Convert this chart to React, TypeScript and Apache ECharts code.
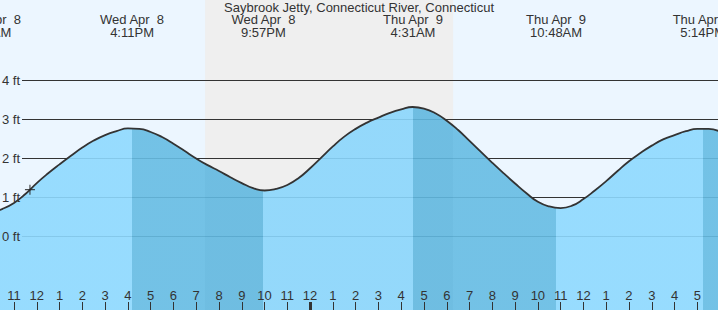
import { useEffect, useRef } from "react";
import * as echarts from "echarts";

const TITLE = "Saybrook Jetty, Connecticut River, Connecticut";

// time in hours since Wed Apr 8 00:00, height in feet
const tideHours = [
  9.5, 10, 10.5, 11, 11.5, 12, 12.5, 13, 13.5, 14, 14.5, 15, 15.5, 16, 16.5, 17, 17.5, 18, 18.5, 19, 19.5, 20, 20.5, 21,
  21.5, 22, 22.5, 23, 23.5, 24, 24.5, 25, 25.5, 26, 26.5, 27, 27.5, 28, 28.5, 29, 29.5, 30, 30.5, 31, 31.5, 32, 32.5, 33,
  33.5, 34, 34.5, 35, 35.5, 36, 36.5, 37, 37.5, 38, 38.5, 39, 39.5, 40, 40.5, 41, 41.5, 42,
];
const tideFeet = [
  0.6, 0.62, 0.71, 0.86, 1.09, 1.37, 1.62, 1.85, 2.07, 2.28, 2.46, 2.6, 2.7, 2.77, 2.76, 2.68, 2.55, 2.38, 2.19, 2.0, 1.83, 1.68, 1.52, 1.37,
  1.24, 1.18, 1.22, 1.32, 1.5, 1.75, 2.03, 2.31, 2.56, 2.76, 2.92, 3.05, 3.17, 3.26, 3.32, 3.28, 3.16, 2.97, 2.73, 2.45, 2.17, 1.89, 1.62, 1.36,
  1.11, 0.89, 0.77, 0.73, 0.79, 0.96, 1.18, 1.42, 1.68, 1.93, 2.14, 2.33, 2.49, 2.6, 2.7, 2.76, 2.76, 2.69,
];

const eventHours = [9.9, 16.183, 21.95, 28.517, 34.8, 41.233];
const eventDates = ["Wed Apr  8", "Wed Apr  8", "Wed Apr  8", "Thu Apr  9", "Thu Apr  9", "Thu Apr  9"];
const eventTimes = ["9:54AM", "4:11PM", "9:57PM", "4:31AM", "10:48AM", "5:14PM"];
const eventKinds = ["low", "high", "low", "high", "low", "high"];

const sunset = 19.39;
const sunrise = 30.28;

const nowHour = 11.7;
const nowFeet = 1.2;

const gridFeet = [0, 1, 2, 3, 4];
const midnightHours = [24];

// layout
const W = 718;
const H = 310;
const PX_PER_HOUR = 22.777;
const FIRST_TICK_X = 14; // pixel position of 11 AM tick
const AXIS_MIN = 9;
const AXIS_MAX = 11 + (W - FIRST_TICK_X) / PX_PER_HOUR;
const GRID_LEFT = FIRST_TICK_X - (11 - AXIS_MIN) * PX_PER_HOUR;
const GRID_WIDTH = (AXIS_MAX - AXIS_MIN) * PX_PER_HOUR;
const VISIBLE_MIN = 11 - FIRST_TICK_X / PX_PER_HOUR;
const PX_PER_FOOT = 39;
const ZERO_Y = 236.5;
const Y_MIN = -(H - ZERO_Y) / PX_PER_FOOT;
const Y_MAX = ZERO_Y / PX_PER_FOOT;

const FONT = "Liberation Sans, Arial, Helvetica, sans-serif";
const TEXT = "#333";
const BG = "#ECF6FF";
const NIGHT = "#EFEFEF";
const LIGHT_DAY = "#8ED9FE";
const DARK_DAY = "#66BCE3";
const LIGHT_NIGHT = "#8AD6FC";
const DARK_NIGHT = "#61B8E0";

function buildPieces() {
  const cuts: number[] = [];
  eventHours.forEach((h) => cuts.push(h));
  cuts.push(sunset, sunrise);
  cuts.sort((a, b) => a - b);
  const isEbb = (x: number) => {
    let kind = "low";
    for (let i = 0; i < eventHours.length; i++) if (eventHours[i] <= x) kind = eventKinds[i];
    return kind === "high";
  };
  const isNight = (x: number) => x >= sunset && x < sunrise;
  const colorAt = (x: number) =>
    isEbb(x) ? (isNight(x) ? DARK_NIGHT : DARK_DAY) : isNight(x) ? LIGHT_NIGHT : LIGHT_DAY;
  const pieces: any[] = [];
  let prev: number | null = null;
  for (const c of cuts) {
    const probe = prev == null ? c - 0.01 : (prev + c) / 2;
    const p: any = { lt: c, color: colorAt(probe) };
    if (prev != null) p.gte = prev;
    pieces.push(p);
    prev = c;
  }
  pieces.push({ gte: prev, color: colorAt((prev as number) + 0.01) });
  return pieces;
}

function hourLabel(v: number) {
  if (v < VISIBLE_MIN + 0.3 || v > AXIS_MAX - 0.3) return "";
  const h = ((Math.round(v) % 24) + 24) % 24;
  return String(h % 12 === 0 ? 12 : h % 12);
}

function eventLabel(v: number) {
  const i = eventHours.findIndex((h) => Math.abs(h - v) < 1e-6);
  return i >= 0 ? eventDates[i] + "\n" + eventTimes[i] : "";
}

export default function App() {
  const ref = useRef<HTMLDivElement>(null);
  useEffect(() => {
    const el = ref.current;
    if (!el) return;
    const chart = echarts.init(el, undefined, { renderer: "svg" });
    const tide = tideHours.map((h, i) => [h, tideFeet[i]]);
    const hiddenAxisLine = { show: false, onZero: false };
    chart.setOption({
      animation: false,
      backgroundColor: BG,
      textStyle: { fontFamily: FONT },
      title: {
        text: TITLE,
        left: "center",
        top: 1,
        padding: 0,
        textStyle: { fontSize: 13, fontWeight: "normal", color: TEXT, fontFamily: FONT, lineHeight: 13 },
      },
      grid: [
        { left: GRID_LEFT, width: GRID_WIDTH, top: 0, bottom: 0, containLabel: false, outerBoundsMode: "none" },
        { left: 22, right: 0, top: 0, bottom: 0, containLabel: false, outerBoundsMode: "none" },
      ],
      xAxis: [
        {
          type: "value",
          gridIndex: 0,
          position: "bottom",
          min: AXIS_MIN,
          max: AXIS_MAX,
          interval: 1,
          z: 10,
          axisLine: hiddenAxisLine,
          splitLine: { show: false },
          axisTick: { show: true, inside: true, length: 8, lineStyle: { color: TEXT, width: 1 } },
          axisLabel: {
            show: true,
            inside: true,
            margin: 8,
            showMinLabel: false,
            showMaxLabel: false,
            fontSize: 13,
            color: TEXT,
            fontFamily: FONT,
            formatter: hourLabel,
          },
        },
        {
          type: "value",
          gridIndex: 0,
          position: "bottom",
          min: AXIS_MIN,
          max: AXIS_MAX,
          z: 11,
          axisLine: hiddenAxisLine,
          splitLine: { show: false },
          axisTick: { show: true, inside: true, length: 8, customValues: midnightHours, lineStyle: { color: TEXT, width: 3 } },
          axisLabel: { show: false, customValues: midnightHours },
        },
        {
          type: "value",
          gridIndex: 0,
          position: "top",
          min: AXIS_MIN,
          max: AXIS_MAX,
          z: 10,
          axisLine: hiddenAxisLine,
          splitLine: { show: false },
          axisTick: { show: false },
          axisLabel: {
            show: true,
            inside: true,
            margin: 13,
            customValues: eventHours,
            formatter: eventLabel,
            fontSize: 13,
            lineHeight: 13,
            color: TEXT,
            fontFamily: FONT,
          },
        },
        { type: "value", gridIndex: 1, min: 0, max: 1, show: false },
      ],
      yAxis: [
        { type: "value", gridIndex: 0, min: Y_MIN, max: Y_MAX, show: false },
        {
          type: "value",
          gridIndex: 1,
          min: Y_MIN,
          max: Y_MAX,
          z: 10,
          axisLine: { show: false },
          axisTick: { show: false },
          splitLine: { show: false },
          axisLabel: {
            show: true,
            margin: 2,
            customValues: gridFeet,
            formatter: "{value} ft",
            fontSize: 13,
            color: TEXT,
            fontFamily: FONT,
          },
        },
      ],
      visualMap: [
        {
          type: "piecewise",
          show: false,
          dimension: 0,
          seriesIndex: 1,
          pieces: buildPieces(),
        },
      ],
      series: [
        {
          type: "line",
          xAxisIndex: 3,
          yAxisIndex: 1,
          data: [],
          silent: true,
          markLine: {
            silent: true,
            z: 1,
            symbol: "none",
            label: { show: false },
            lineStyle: { color: TEXT, width: 1, type: "solid" },
            data: gridFeet.map((v) => ({ yAxis: v })),
          },
        },
        {
          type: "line",
          xAxisIndex: 0,
          yAxisIndex: 0,
          z: 3,
          data: tide,
          smooth: 0.5,
          symbol: "none",
          silent: true,
          lineStyle: { color: TEXT, width: 1.8 },
          areaStyle: { opacity: 0.9, origin: "start" },
          markArea: {
            silent: true,
            z: 0,
            itemStyle: { color: NIGHT },
            data: [[{ xAxis: sunset }, { xAxis: sunrise }]],
          },
        },
        {
          type: "scatter",
          xAxisIndex: 0,
          yAxisIndex: 0,
          z: 5,
          silent: true,
          data: [[nowHour, nowFeet]],
          symbol: "path://M5,0L5,10M0,5L10,5",
          symbolSize: 10,
          itemStyle: { color: "transparent", borderColor: "#222", borderWidth: 1.2 },
        },
      ],
    });
    return () => chart.dispose();
  }, []);
  return <div ref={ref} style={{ position: "fixed", left: 0, top: 0, width: W, height: H }} />;
}
